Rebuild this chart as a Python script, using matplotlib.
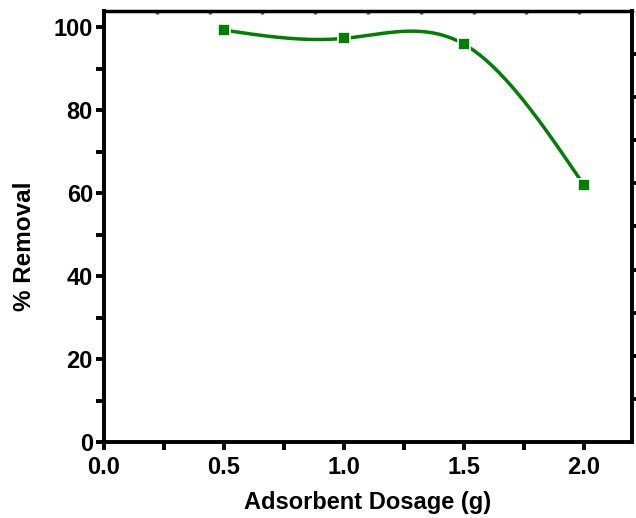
import numpy as np
import matplotlib
matplotlib.use("Agg")
import matplotlib.pyplot as plt
from matplotlib.ticker import MultipleLocator, FormatStrFormatter, FixedLocator, NullFormatter

dosage = [0.5, 1.0, 1.5, 2.0]
removal = [99.3, 97.3, 95.9, 61.9]

def natural_spline(x, y, xs):
    x = np.asarray(x, float); y = np.asarray(y, float)
    n = len(x)
    h = np.diff(x)
    A = np.zeros((n, n)); b = np.zeros(n)
    A[0, 0] = 1; A[-1, -1] = 1
    for i in range(1, n - 1):
        A[i, i - 1] = h[i - 1]; A[i, i] = 2 * (h[i - 1] + h[i]); A[i, i + 1] = h[i]
        b[i] = 3 * ((y[i + 1] - y[i]) / h[i] - (y[i] - y[i - 1]) / h[i - 1])
    c = np.linalg.solve(A, b)
    out = np.empty_like(xs)
    for k, xv in enumerate(xs):
        i = min(max(np.searchsorted(x, xv) - 1, 0), n - 2)
        bi = (y[i + 1] - y[i]) / h[i] - h[i] * (2 * c[i] + c[i + 1]) / 3
        di = (c[i + 1] - c[i]) / (3 * h[i])
        t = xv - x[i]
        out[k] = y[i] + bi * t + c[i] * t ** 2 + di * t ** 3
    return out

plt.rcParams['font.family'] = ['Liberation Sans Narrow', 'Liberation Sans']
plt.rcParams['font.weight'] = 'bold'

fig = plt.figure(figsize=(6.36, 5.18), dpi=100)
ax = fig.add_axes([104/636, 76/518, 528/636, 431/518])

XMAX, YMAX = 2.2, 103.9
xs = np.linspace(dosage[0], dosage[-1], 300)
ax.plot(xs, natural_spline(dosage, removal, xs), color='#008000', lw=2.5)
ax.plot(dosage, removal, 's', color='#008000', ms=8, mec='white', mew=1.2, ls='none')

ax.set_xlim(0, XMAX)
ax.set_ylim(0, YMAX)
ax.xaxis.set_major_locator(MultipleLocator(0.5))
ax.xaxis.set_minor_locator(MultipleLocator(0.25))
ax.yaxis.set_major_locator(MultipleLocator(20))
ax.yaxis.set_minor_locator(MultipleLocator(10))
ax.xaxis.set_major_formatter(FormatStrFormatter('%.1f'))
ax.yaxis.set_major_formatter(FormatStrFormatter('%d'))

for s in ax.spines.values():
    s.set_linewidth(2.8)
ax.spines['top'].set_linewidth(2.5)

ax.tick_params(which='both', direction='out', width=2.8, length=6, labelsize=17,
               top=False, right=False)
ax.tick_params(axis='x', which='both', pad=4)
ax.tick_params(axis='y', which='both', pad=2)

top = ax.secondary_xaxis('top')
top.xaxis.set_major_locator(FixedLocator(np.arange(1, 10) * XMAX / 10))
top.xaxis.set_major_formatter(NullFormatter())
top.tick_params(direction='in', length=2.5, width=2.5, color='#555555')
top.spines['top'].set_visible(False)

right = ax.secondary_yaxis('right')
right.yaxis.set_major_locator(FixedLocator(np.arange(1, 10) * YMAX / 10))
right.yaxis.set_major_formatter(NullFormatter())
right.tick_params(direction='out', length=4, width=2.8)
right.spines['right'].set_visible(False)

ax.set_xlabel('Adsorbent Dosage (g)', fontsize=17, fontweight='bold', labelpad=9)
ax.set_ylabel('% Removal', fontsize=17.5, fontweight='bold')
ax.yaxis.set_label_coords(-0.129, 0.455)

fig.savefig('out.png', dpi=100)
